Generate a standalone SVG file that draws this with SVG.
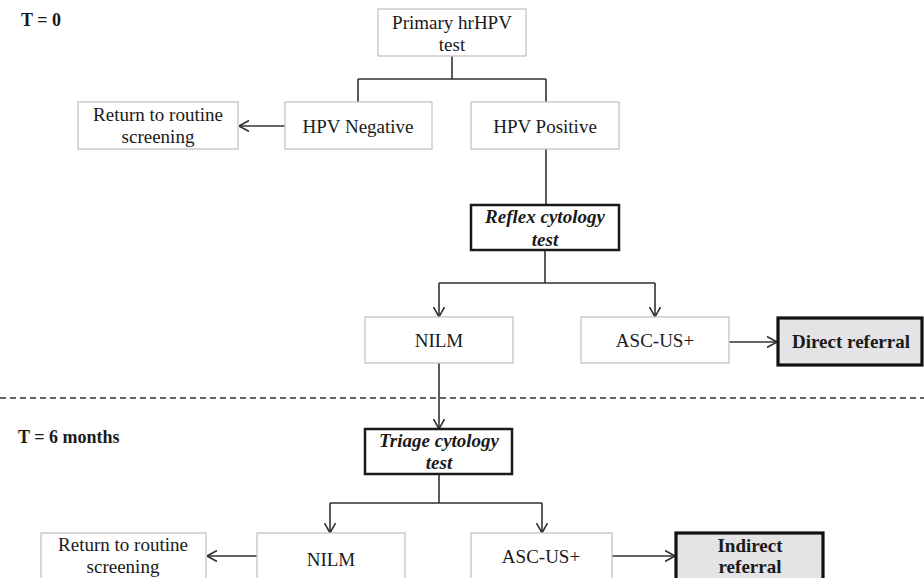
<svg xmlns="http://www.w3.org/2000/svg" width="924" height="578" viewBox="0 0 924 578">
<style>
text{font-family:"Liberation Serif","Times New Roman",serif;font-size:19px;fill:#1a1a1a;text-anchor:middle}
.b{font-weight:bold}
.bi{font-weight:bold;font-style:italic}
.lab{text-anchor:start;font-weight:bold;font-size:18px}
.box{fill:#fff;stroke:#c4c4c4;stroke-width:1.3}
.tbox{fill:#fff;stroke:#1a1a1a;stroke-width:2.5}
.gbox{fill:#e4e4e6;stroke:#111;stroke-width:3.2}
.c{fill:none;stroke:#333;stroke-width:1.6}
.dash{fill:none;stroke:#333;stroke-width:1.3;stroke-dasharray:6 4}
</style>
<defs>
<marker id="ah" viewBox="0 0 10 12" refX="10" refY="6" markerWidth="10" markerHeight="12" markerUnits="userSpaceOnUse" orient="auto">
<path d="M0,0.5 L10,6 L0,11.5" fill="none" stroke="#333" stroke-width="1.6"/>
</marker>
</defs>
<text class="lab" x="21" y="26">T = 0</text>
<text class="lab" x="18" y="443">T = 6 months</text>
<g id="connectors">
<path class="c" d="M452,56 V79 M358,79 H546 M358,79 V102 M546,79 V102"/>
<path class="c" d="M285,126 H239" marker-end="url(#ah)"/>
<path class="c" d="M546,149 V205"/>
<path class="c" d="M545,250 V283 M439,283 H655"/>
<path class="c" d="M439,283 V317" marker-end="url(#ah)"/>
<path class="c" d="M655,283 V317" marker-end="url(#ah)"/>
<path class="c" d="M729,342 H777" marker-end="url(#ah)"/>
<path class="dash" d="M0,398 H924"/>
<path class="c" d="M439,363 V429" marker-end="url(#ah)"/>
<path class="c" d="M439,474 V503 M330,503 H542"/>
<path class="c" d="M330,503 V533" marker-end="url(#ah)"/>
<path class="c" d="M542,503 V533" marker-end="url(#ah)"/>
<path class="c" d="M257,556 H207" marker-end="url(#ah)"/>
<path class="c" d="M612,556 H675" marker-end="url(#ah)"/>
</g>
<g id="primary"><rect class="box" x="378" y="9" width="148" height="47"/><text x="452" y="29">Primary hrHPV</text><text x="452" y="51">test</text></g>
<g id="return1"><rect class="box" x="78" y="102" width="160" height="47"/><text x="158" y="121">Return to routine</text><text x="158" y="143">screening</text></g>
<g id="hpvneg"><rect class="box" x="285" y="102" width="147" height="47"/><text x="358" y="133">HPV Negative</text></g>
<g id="hpvpos"><rect class="box" x="471" y="102" width="148" height="47"/><text x="545" y="133">HPV Positive</text></g>
<g id="reflex"><rect class="tbox" x="471" y="205" width="148" height="45"/><text class="bi" x="545" y="223">Reflex cytology</text><text class="bi" x="545" y="246">test</text></g>
<g id="nilm1"><rect class="box" x="365" y="317" width="148" height="46"/><text x="439" y="347">NILM</text></g>
<g id="ascus1"><rect class="box" x="581" y="317" width="148" height="46"/><text x="655" y="347">ASC-US+</text></g>
<g id="direct"><rect class="gbox" x="778" y="318" width="144" height="47"/><text class="b" x="851" y="348">Direct referral</text></g>
<g id="triage"><rect class="tbox" x="365" y="429" width="147" height="45"/><text class="bi" x="439" y="447">Triage cytology</text><text class="bi" x="439" y="469">test</text></g>
<g id="return2"><rect class="box" x="41" y="533" width="165" height="60"/><text x="123" y="551">Return to routine</text><text x="123" y="573">screening</text></g>
<g id="nilm2"><rect class="box" x="257" y="533" width="148" height="60"/><text x="331" y="566">NILM</text></g>
<g id="ascus2"><rect class="box" x="471" y="533" width="141" height="60"/><text x="541" y="563">ASC-US+</text></g>
<g id="indirect"><rect class="gbox" x="676" y="533" width="147" height="60"/><text class="b" x="750" y="552">Indirect</text><text class="b" x="750" y="573">referral</text></g>
</svg>
